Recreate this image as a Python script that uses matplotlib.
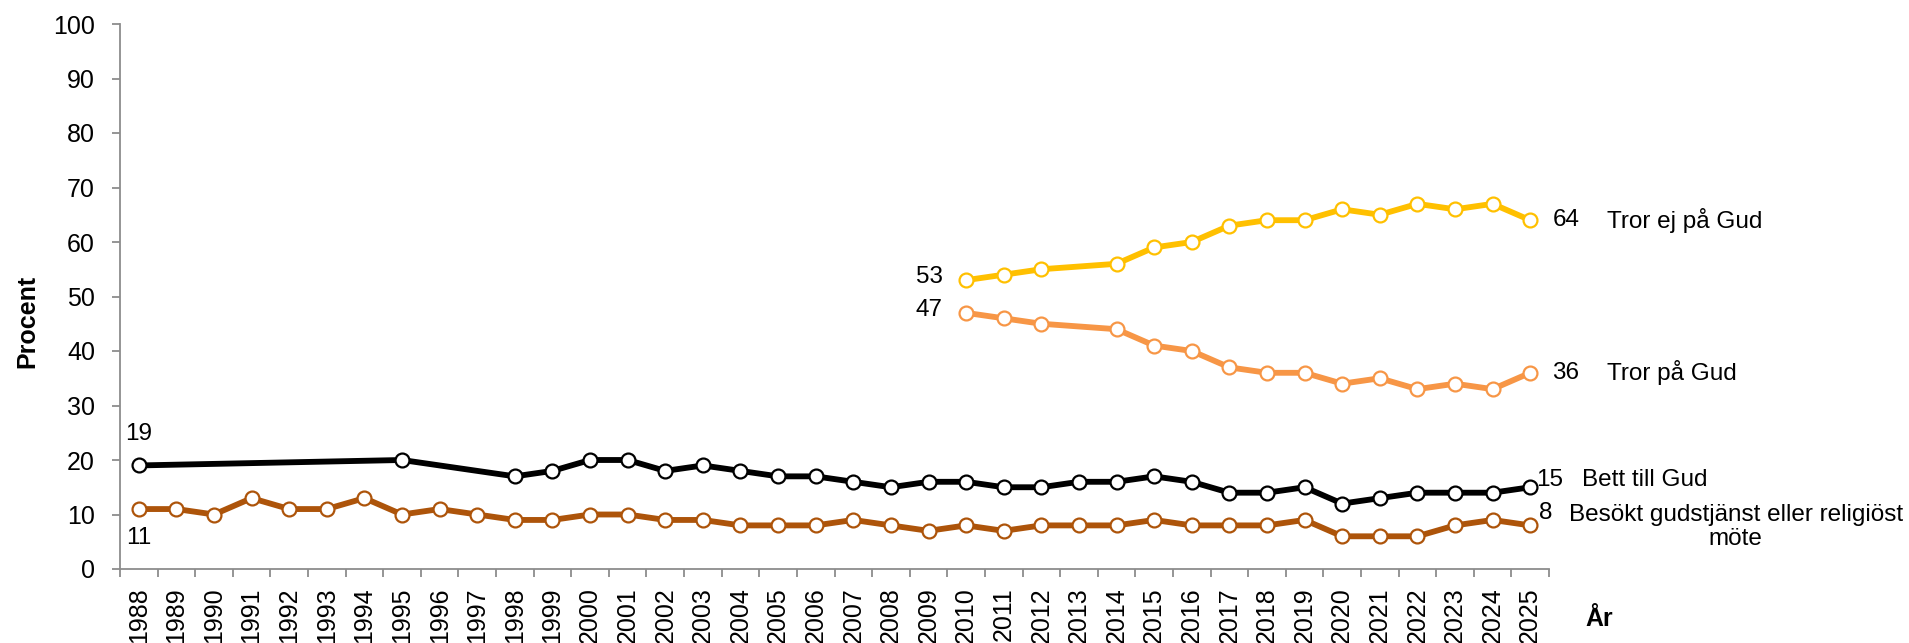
import numpy as np
import matplotlib
matplotlib.use("Agg")
import matplotlib.pyplot as plt
from matplotlib.ticker import FixedLocator

plt.rcParams['font.family'] = ['Liberation Sans', 'DejaVu Sans']

nan = np.nan
years = [str(y) for y in range(1988, 2026)]

bett = [19, nan, nan, nan, nan, nan, nan, 20, nan, nan,
        17, 18, 20, 20, 18, 19, 18, 17, 17, 16, 15, 16, 16, 15, 15, 16, 16, 17, 16, 14,
        14, 15, 12, 13, 14, 14, 14, 15]
besokt = [11, 11, 10, 13, 11, 11, 13, 10, 11, 10,
          9, 9, 10, 10, 9, 9, 8, 8, 8, 9, 8, 7, 8, 7, 8, 8, 8, 9, 8, 8,
          8, 9, 6, 6, 6, 8, 9, 8]
tror_ej = [nan] * 22 + [53, 54, 55, nan, 56, 59, 60, 63, 64, 64, 66, 65, 67, 66, 67, 64]
tror = [nan] * 22 + [47, 46, 45, nan, 44, 41, 40, 37, 36, 36, 34, 35, 33, 34, 33, 36]

names = ["Tror ej på Gud", "Tror på Gud", "Bett till Gud",
         "Besökt gudstjänst eller religiöst\nmöte"]
colors = ["#FFC000", "#F79646", "#000000", "#AD540A"]

FS = 18
FA = 17.5

fig = plt.figure(figsize=(19.09, 6.43), dpi=100)
ax = fig.add_axes([120/1909, 1-569/643, (1549-120)/1909, (569-24)/643])

x = np.arange(len(years))
series = [tror_ej, tror, bett, besokt]
for vals, col in zip(series[::-1], colors[::-1]):
    v = np.array(vals, dtype=float)
    m = ~np.isnan(v)
    ax.plot(x[m], v[m], color=col, lw=4.2, marker='o', ms=10,
            mfc='white', mec=col, mew=1.6, zorder=3)

ax.set_xlim(-0.5, len(years) - 0.5)
ax.set_ylim(0, 100)
ax.set_yticks(range(0, 101, 10))
ax.set_xticks(x)
ax.set_xticklabels(years, rotation=90, fontsize=FS)
ax.xaxis.set_minor_locator(FixedLocator(np.arange(-0.5, len(years), 1)))
ax.tick_params(axis='x', which='major', length=0, pad=13)
ax.tick_params(axis='x', which='minor', length=6, width=1.3, color='#8C8C8C', direction='out')
ax.tick_params(axis='y', length=6, width=1.3, color='#8C8C8C', pad=12, labelsize=FS)

for s in ['top', 'right']:
    ax.spines[s].set_visible(False)
for s in ['left', 'bottom']:
    ax.spines[s].set_color('#8C8C8C')
    ax.spines[s].set_linewidth(1.3)

ann = dict(textcoords='offset points', fontsize=FA, color='black')
ax.annotate(f"{bett[0]}", (0, bett[0]), xytext=(0, 23), ha='center', va='center', **ann)
ax.annotate(f"{besokt[0]}", (0, besokt[0]), xytext=(0, -21), ha='center', va='center', **ann)
ax.annotate(f"{tror_ej[22]}", (22, tror_ej[22]), xytext=(-17, 2), ha='right', va='center', **ann)
ax.annotate(f"{tror[22]}", (22, tror[22]), xytext=(-17, 2), ha='right', va='center', **ann)

last = len(years) - 1
ax.annotate(f"{tror_ej[last]}", (last, tror_ej[last]), xytext=(16, 0), ha='left', va='center', **ann)
ax.annotate(names[0], (last, tror_ej[last]), xytext=(55, 0), ha='left', va='center', **ann)
ax.annotate(f"{tror[last]}", (last, tror[last]), xytext=(16, 0), ha='left', va='center', **ann)
ax.annotate(names[1], (last, tror[last]), xytext=(55, 0), ha='left', va='center', **ann)
ax.annotate(f"{bett[last]}", (last, bett[last]), xytext=(4, 5), ha='left', va='center', **ann)
ax.annotate(names[2], (last, bett[last]), xytext=(37, 5), ha='left', va='center', **ann)
ax.annotate(f"{besokt[last]}", (last, besokt[last]), xytext=(6, 9), ha='left', va='center', **ann)
ax.annotate(names[3], (last, besokt[last]), xytext=(148, -1), ha='center', va='center',
            multialignment='center', linespacing=1.1, annotation_clip=False, **ann)

fig.text(27/1909, 1-321/643, "Procent", rotation=90, ha='center', va='center',
         fontsize=FS, fontweight='bold')
fig.text(1599/1909, 1-619/643, "År", ha='center', va='center',
         fontsize=FS, fontweight='bold')

fig.savefig("out.png", dpi=100)
